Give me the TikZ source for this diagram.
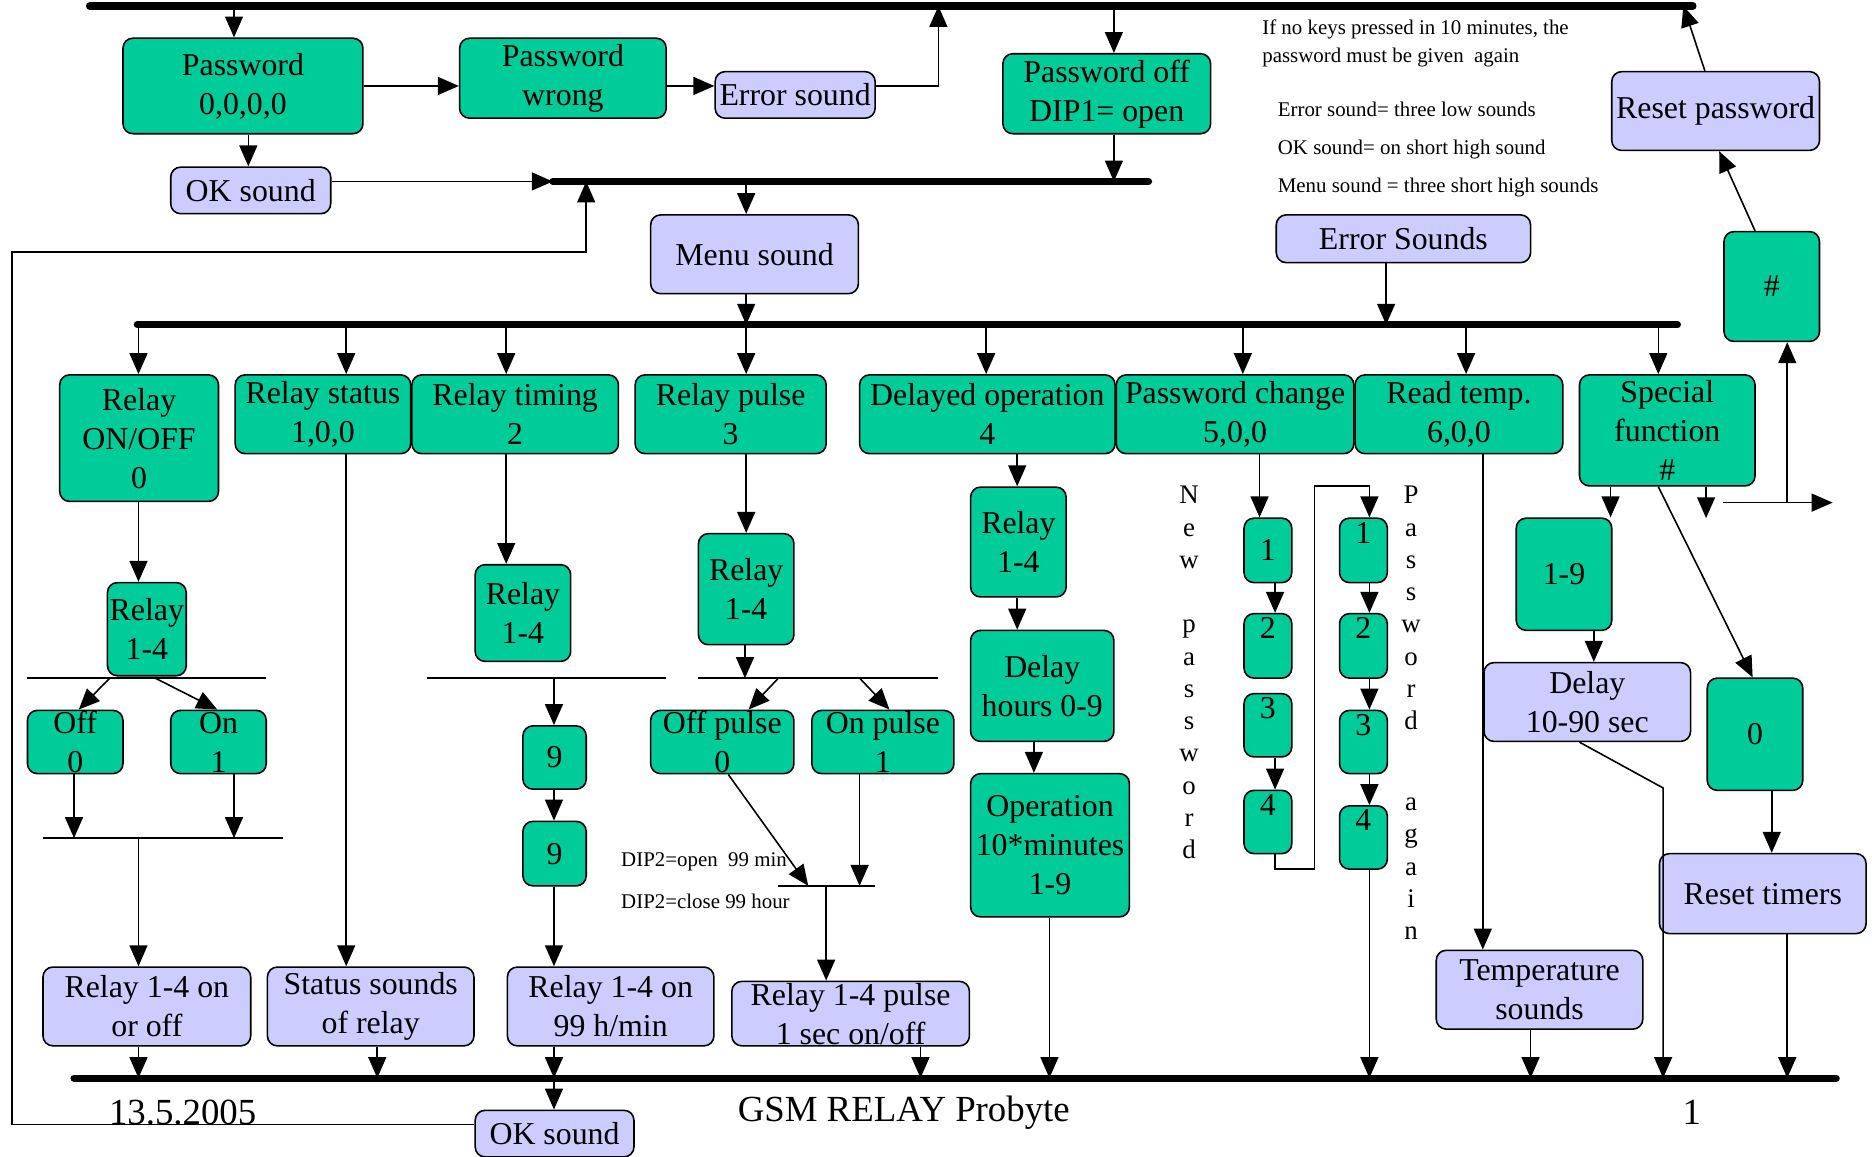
\documentclass[tikz,border=0pt]{standalone}
\usepackage{fontspec}
\setmainfont{Liberation Serif}
\usetikzlibrary{arrows.meta}
\definecolor{keygreen}{RGB}{0,204,153}
\definecolor{soundblue}{RGB}{204,204,255}

\begin{document}
\begin{tikzpicture}[x=0.6pt,y=-0.6pt]
\tikzset{
  spot/.style args={#1/#2/#3/#4}{minimum width={(#3-#1)*0.6pt},minimum height={(#4-#2)*0.6pt},at={({(#1+#3)/2},{(#2+#4)/2})}},
  box/.style={draw=black,line width=0.8pt,rounded corners=5pt,inner sep=0pt,align=center,font=\fontsize{16}{19.6}\selectfont},
  gbox/.style={box,fill=keygreen},
  pbox/.style={box,fill=soundblue},
  numtop/.style={text height=12pt,text depth=19pt},
  bus/.style={line width=3.6pt,line cap=round},
  wire/.style={line width=0.8pt},
  arr/.style={wire,-{Triangle[length=10.5pt,width=9pt]}},
  note/.style={font=\fontsize{10.5}{13}\selectfont,anchor=west,inner sep=0pt},
  vnote/.style={font=\fontsize{13.5}{16.2}\selectfont,align=center,anchor=north,inner sep=0pt},
  foot/.style={font=\fontsize{18.5}{22}\selectfont,inner sep=0pt}
}
\useasboundingbox (0,0) rectangle (1568,969);

\coordinate (btop) at (75,5);
\coordinate (btopE) at (1418,5);
\coordinate (bmenu) at (463,152);
\coordinate (bmenuE) at (962,152);
\coordinate (bmain) at (115,272);
\coordinate (bmainE) at (1405,272);
\coordinate (bbot) at (62,903);
\coordinate (bbotE) at (1538,903);

\node[gbox,spot=103/32/304/112] (pw) {Password\\0,0,0,0};
\node[gbox,spot=385/32/558/99] (pwwrong) {Password\\wrong};
\node[pbox,spot=599/60/733/99] (errs) {Error sound};
\node[pbox,spot=143/140/277/179] (oktop) {OK sound};
\node[gbox,spot=840/45/1014/112] (pwoff) {Password off\\DIP1= open};
\node[pbox,spot=545/180/719/246] (menu) {Menu sound};
\node[pbox,spot=1069/180/1282/220] (errsnd) {Error Sounds};
\node[pbox,spot=1350/60/1524/126] (rstpw) {Reset password};
\node[gbox,spot=1444/194/1524/286] (hash) {\#};

\node[note] (keys1) at (1057,25) {If no keys pressed in 10 minutes, the};
\node[note] (keys2) at (1057,48) {password must be given\ \ again};
\node[note] (errnote) at (1070,92) {Error sound= three low sounds};
\node[note] (oknote) at (1070,125) {OK sound= on short high sound};
\node[note] (menunote) at (1070,157) {Menu sound = three short high sounds};

\node[gbox,spot=50/314/183/420] (ronoff) {Relay\\ON/OFF\\0};
\node[gbox,spot=197/314/344/380] (rstat) {Relay status\\1,0,0};
\node[gbox,spot=345/314/518/380] (rtime) {Relay timing\\2};
\node[gbox,spot=532/314/692/380] (rpulse) {Relay pulse\\3};
\node[gbox,spot=720/314/934/380] (delop) {Delayed operation\\4};
\node[gbox,spot=935/314/1134/380] (pwchg) {Password change\\5,0,0};
\node[gbox,spot=1135/314/1309/380] (rtemp) {Read temp.\\6,0,0};
\node[gbox,spot=1323/314/1470/407] (spec) {Special\\function\\\#};

\node[gbox,spot=90/488/156/566] (relayA) {Relay\\1-4};
\node[gbox,spot=23/595/103/648] (off0) {Off\\0};
\node[gbox,spot=143/595/223/648] (on1) {On\\1};
\node[pbox,spot=36/810/210/876] (onoffres) {Relay 1-4 on\\or off};

\node[pbox,spot=224/810/397/876] (stsnd) {Status sounds\\of relay};

\node[gbox,spot=398/473/478/554] (relayB) {Relay\\1-4};
\node[gbox,spot=438/608/491/661] (nineA) {9};
\node[gbox,spot=438/688/491/742] (nineB) {9};
\node[pbox,spot=425/810/598/876] (r99) {Relay 1-4 on\\99 h/min};
\node[pbox,spot=398/930/531/969] (okbot) {OK sound};

\node[gbox,spot=585/447/665/540] (relayC) {Relay\\1-4};
\node[gbox,spot=545/595/665/648] (offp) {Off pulse\\0};
\node[gbox,spot=680/595/799/648] (onp) {On pulse\\1};
\node[pbox,spot=613/822/812/876] (rpls) {Relay 1-4 pulse\\1 sec on/off};
\node[note] (dipopen) at (520,722) {DIP2=open\ \ 99 min};
\node[note] (dipclose) at (520,755) {DIP2=close 99 hour};

\node[gbox,spot=813/408/893/500] (relayD) {Relay\\1-4};
\node[gbox,spot=813/528/933/621] (dlyh) {Delay\\hours 0-9};
\node[gbox,spot=813/648/946/768] (oper) {Operation\\10*minutes\\1-9};

\node[gbox,spot=1042/434/1082/488] (new1) {1};
\node[gbox,numtop,spot=1042/514/1082/568] (new2) {2};
\node[gbox,numtop,spot=1042/581/1082/634] (new3) {3};
\node[gbox,numtop,spot=1042/662/1082/715] (new4) {4};
\node[gbox,numtop,spot=1122/434/1162/488] (again1) {1};
\node[gbox,numtop,spot=1122/514/1162/568] (again2) {2};
\node[gbox,numtop,spot=1122/595/1162/648] (again3) {3};
\node[gbox,numtop,spot=1122/675/1162/728] (again4) {4};
\node[vnote] (newtxt) at (996,407) {N\\e\\w\\[16.2pt]p\\a\\s\\s\\w\\o\\r\\d};
\node[vnote] (againtxt) at (1182,407) {P\\a\\s\\s\\w\\o\\r\\d\\[24.6pt]a\\g\\a\\i\\n};

\node[pbox,spot=1203/796/1376/862] (tmpsnd) {Temperature\\sounds};

\node[gbox,spot=1270/434/1350/528] (one9) {1-9};
\node[pbox,spot=1243/555/1416/621] (dly10) {Delay\\10-90 sec};
\node[gbox,spot=1430/568/1510/662] (zero) {0};
\node[pbox,spot=1390/715/1563/782] (rsttim) {Reset timers};

\node[foot] (date) at (153,932) {13.5.2005};
\node[foot] (title) at (757,932) {GSM RELAY Probyte};
\node[foot] (page) at (1417,932) {1};

\draw[arr] (196,0 |- btop) -- (196,0 |- pw.north);
\draw[arr] (pw.east) -- (pw.east -| pwwrong.west);
\draw[arr] (pwwrong.east |- pw.east) -- (errs.west |- pw.east);
\draw[arr] (errs.east |- pw.east) -| (786,0 |- btop);
\draw[arr] (208,0 |- pw.south) -- (208,0 |- oktop.north);
\draw[arr] (oktop.east |- bmenu) -- (bmenu);
\draw[arr] (933,0 |- btop) -- (933,0 |- pwoff.north);
\draw[arr] (933,0 |- pwoff.south) -- (933,0 |- bmenu);
\draw[arr] (625,0 |- bmenu) -- (625,0 |- menu.north);
\draw[arr] (625,0 |- menu.south) -- (625,0 |- bmain);
\draw[arr] (okbot.west |- 0,942) -| (10,211) -| (491,0 |- bmenu);
\draw[arr] (1161,0 |- errsnd.south) -- (1161,0 |- bmain);
\draw[arr] (1428,0 |- rstpw.north) -- (1410,0 |- btop);
\draw[arr] (1470,0 |- hash.north) -- (1440,0 |- rstpw.south);
\coordinate (sfa) at (1443,421);
\coordinate (sfb) at (1535,421);
\draw[arr] (1497,0 |- sfa) -- (1497,0 |- hash.south);
\draw[arr] (sfa) -- (sfb);

\foreach \x/\n in {116/ronoff,290/rstat,424/rtime,625/rpulse,826/delop,1041/pwchg,1228/rtemp,1389/spec}
  \draw[arr] (\x,0 |- bmain) -- (\x,0 |- \n.north);

\draw[arr] (116,0 |- ronoff.south) -- (116,0 |- relayA.north);
\draw[wire] (23,568) -- (223,568);
\draw[arr] (92,568) -- (66,0 |- off0.north);
\draw[arr] (130,568) -- (182,0 |- on1.north);
\draw[arr] (62,0 |- off0.south) -- (62,702);
\draw[arr] (196,0 |- on1.south) -- (196,702);
\draw[wire] (36,702) -- (237,702);
\draw[arr] (116,702) -- (116,0 |- onoffres.north);
\draw[arr] (116,0 |- onoffres.south) -- (116,0 |- bbot);

\draw[arr] (290,0 |- rstat.south) -- (290,0 |- stsnd.north);
\draw[arr] (316,0 |- stsnd.south) -- (316,0 |- bbot);

\draw[arr] (424,0 |- rtime.south) -- (424,0 |- relayB.north);
\draw[wire] (358,568) -- (558,568);
\draw[arr] (464,568) -- (464,0 |- nineA.north);
\draw[arr] (464,0 |- nineA.south) -- (464,0 |- nineB.north);
\draw[arr] (464,0 |- nineB.south) -- (464,0 |- r99.north);
\draw[arr] (464,0 |- r99.south) -- (464,0 |- bbot);
\draw[arr] (464,0 |- bbot) -- (464,0 |- okbot.north);

\draw[arr] (625,0 |- rpulse.south) -- (625,0 |- relayC.north);
\draw[arr] (624,0 |- relayC.south) -- (624,568);
\draw[wire] (585,568) -- (786,568);
\draw[arr] (652,568) -- (627,0 |- offp.north);
\draw[arr] (720,568) -- (745,0 |- onp.north);
\draw[arr] (610,0 |- offp.south) -- (677,742);
\draw[arr] (720,0 |- onp.south) -- (720,742);
\draw[wire] (652,742) -- (733,742);
\draw[arr] (692,742) -- (692,0 |- rpls.north);
\draw[arr] (771,0 |- rpls.south) -- (771,0 |- bbot);

\draw[arr] (852,0 |- delop.south) -- (852,0 |- relayD.north);
\draw[arr] (852,0 |- relayD.south) -- (852,0 |- dlyh.north);
\draw[arr] (866,0 |- dlyh.south) -- (866,0 |- oper.north);
\draw[arr] (879,0 |- oper.south) -- (879,0 |- bbot);

\draw[arr] (1055,0 |- pwchg.south) -- (1055,0 |- new1.north);
\draw[arr] (1068,0 |- new1.south) -- (1068,0 |- new2.north);
\draw[arr] (1068,0 |- new3.south) -- (1068,0 |- new4.north);
\draw[arr] (1068,0 |- new4.south) |- (1101,728) |- (1147,407) -- (1147,0 |- again1.north);
\draw[arr] (1147,0 |- again1.south) -- (1147,0 |- again2.north);
\draw[arr] (1147,0 |- again2.south) -- (1147,0 |- again3.north);
\draw[arr] (1147,0 |- again3.south) -- (1147,0 |- again4.north);
\draw[arr] (1147,0 |- again4.south) -- (1147,0 |- bbot);

\draw[arr] (1242,0 |- rtemp.south) -- (1242,0 |- tmpsnd.north);
\draw[arr] (1282,0 |- tmpsnd.south) -- (1282,0 |- bbot);

\draw[arr] (1349,0 |- spec.south) -- (1349,0 |- one9.north);
\draw[arr] (1429,0 |- spec.south) -- (1429,434);
\draw[arr] (1389,0 |- spec.south) -- (1468,0 |- zero.north);
\draw[arr] (1335,0 |- one9.south) -- (1335,0 |- dly10.north);
\draw[arr] (1323,0 |- dly10.south) -- (1393,660) -- (1393,0 |- bbot);
\draw[arr] (1484,0 |- zero.south) -- (1484,0 |- rsttim.north);
\draw[arr] (1497,0 |- rsttim.south) -- (1497,0 |- bbot);

\draw[bus] (btop) -- (btopE);
\draw[bus] (bmenu) -- (bmenuE);
\draw[bus] (bmain) -- (bmainE);
\draw[bus] (bbot) -- (bbotE);

\end{tikzpicture}
\end{document}
